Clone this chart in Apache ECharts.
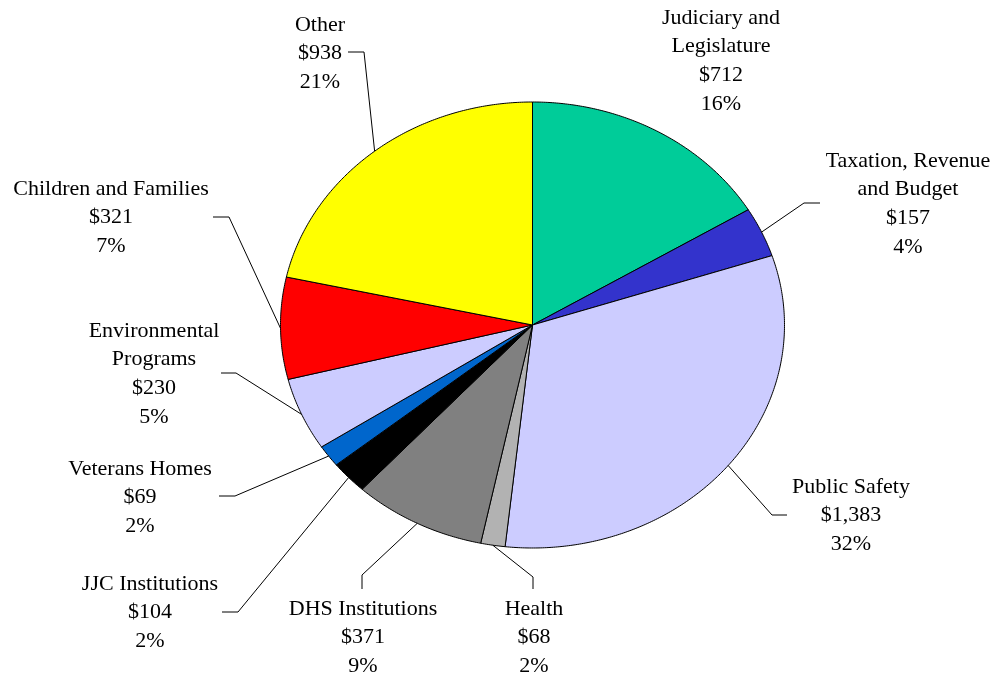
<!DOCTYPE html>
<html>
<head>
<meta charset="utf-8">
<script src="https://cdn.jsdelivr.net/npm/echarts@6/dist/echarts.min.js"></script>
<style>
html,body{margin:0;padding:0;background:#fff;}
#chart{width:998px;height:679px;}
</style>
</head>
<body>
<div id="chart"></div>
<script>
// ---- data ----
const categories = ['Judiciary and\nLegislature', 'Taxation, Revenue\nand Budget', 'Public Safety', 'Health',
  'DHS Institutions', 'JJC Institutions', 'Veterans Homes', 'Environmental\nPrograms', 'Children and Families', 'Other'];
const values = [712, 157, 1383, 68, 371, 104, 69, 230, 321, 938];
const pctLabels = ['16%', '4%', '32%', '2%', '9%', '2%', '2%', '5%', '7%', '21%'];

// ---- styles / layout ----
const colors = ['#00CC99', '#3333CC', '#CCCCFF', '#B2B2B2', '#808080', '#000000', '#0066CC', '#CCCCFF', '#FF0000', '#FFFF00'];
const pie = { cx: 532.5, cy: 325, rx: 252, ry: 223 };
// label: center x, first-line middle y; leader: elbow and end points (null = no leader)
const labelLayout = [
  { x: 721, y: 18, elbow: null, end: null },
  { x: 908, y: 161, elbow: [804, 203], end: [820, 203] },
  { x: 851, y: 487, elbow: [772, 515], end: [787, 515] },
  { x: 534, y: 609, elbow: [533, 577], end: [533, 589] },
  { x: 363, y: 609, elbow: [362, 575], end: [362, 589] },
  { x: 150, y: 584, elbow: [238, 612], end: [222, 612] },
  { x: 140, y: 469, elbow: [235, 496], end: [219, 496] },
  { x: 154, y: 331, elbow: [236, 373], end: [221, 373] },
  { x: 111, y: 189, elbow: [229, 217], end: [213, 217] },
  { x: 320, y: 25, elbow: [364, 52], end: [348, 52] }
];
const FONT = '22px "Liberation Serif", "Times New Roman", serif';
const LINE_H = 28.7;

const total = values.reduce((a, b) => a + b, 0);
const startAngles = [];
let acc = 0;
values.forEach(v => { startAngles.push(acc / total * Math.PI * 2); acc += v; });

function ellipsePoint(theta) {
  return [pie.cx + pie.rx * Math.sin(theta), pie.cy - pie.ry * Math.cos(theta)];
}

function renderItem(params, api) {
  const i = params.dataIndex;
  const v = api.value(0);
  const a0 = startAngles[i];
  const a1 = a0 + v / total * Math.PI * 2;
  const pts = [[pie.cx, pie.cy]];
  const steps = Math.max(4, Math.ceil((a1 - a0) / (Math.PI / 360)));
  for (let k = 0; k <= steps; k++) pts.push(ellipsePoint(a0 + (a1 - a0) * k / steps));
  const children = [{
    type: 'polygon',
    shape: { points: pts },
    style: { fill: colors[i], stroke: '#000', lineWidth: 1, lineJoin: 'round' }
  }];
  const lay = labelLayout[i];
  if (lay.end) {
    const anchor = ellipsePoint((a0 + a1) / 2);
    children.push({
      type: 'polyline',
      shape: { points: [anchor, lay.elbow, lay.end] },
      style: { fill: null, stroke: '#000', lineWidth: 1 },
      z2: 5
    });
  }
  const lines = categories[i].split('\n').concat(['$' + v.toLocaleString('en-US'), pctLabels[i]]);
  children.push({
    type: 'text',
    x: lay.x,
    y: lay.y - LINE_H / 2,
    style: {
      text: lines.join('\n'),
      font: FONT,
      fill: '#000',
      align: 'center',
      verticalAlign: 'top',
      lineHeight: LINE_H
    },
    z2: 10
  });
  return { type: 'group', children: children };
}

const chart = echarts.init(document.getElementById('chart'), null, { renderer: 'canvas' });
chart.setOption({
  backgroundColor: '#ffffff',
  animation: false,
  series: [{
    type: 'custom',
    coordinateSystem: 'none',
    renderItem: renderItem,
    data: values.map(v => [v])
  }]
});
</script>
</body>
</html>
